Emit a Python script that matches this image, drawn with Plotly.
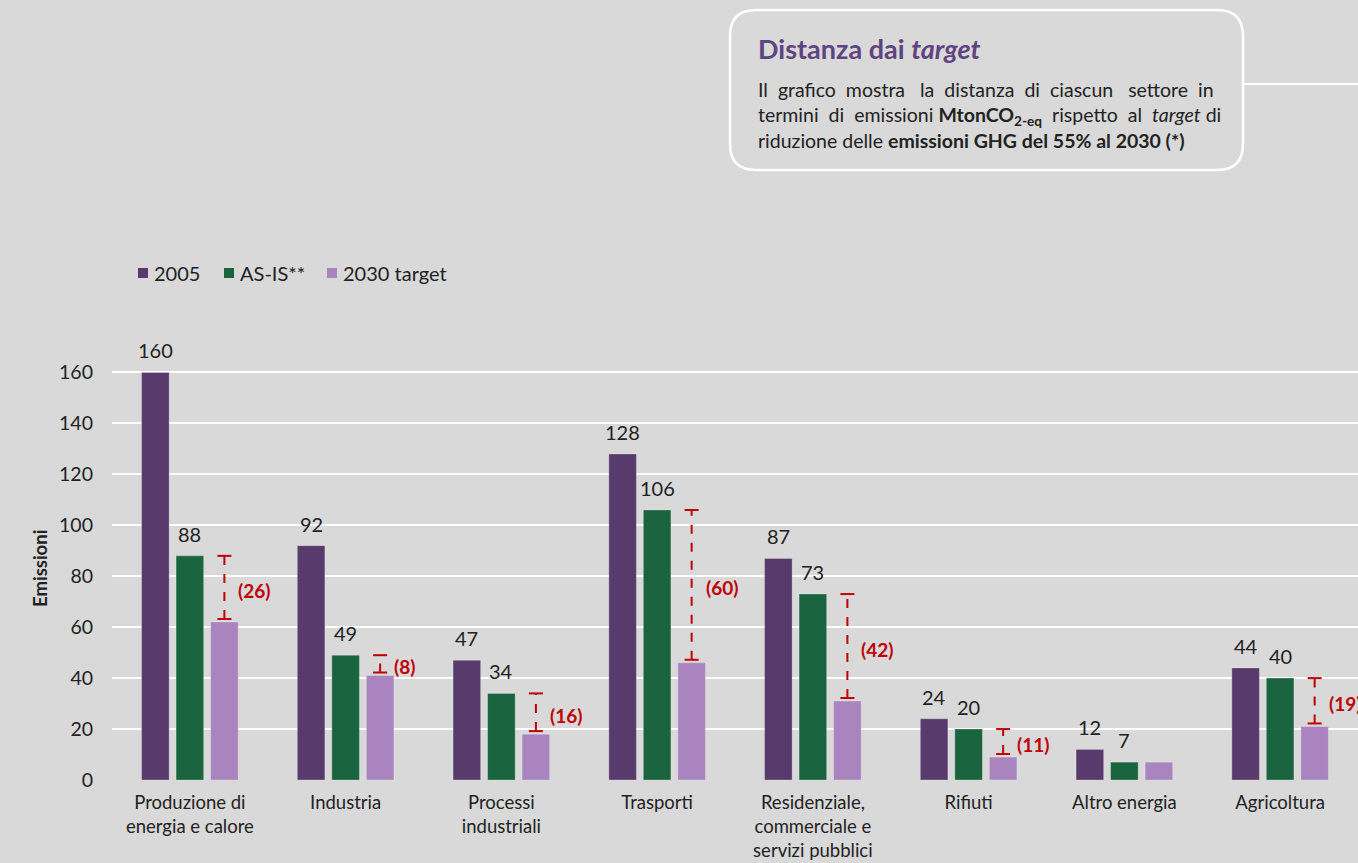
import plotly.graph_objects as go

# ---------------- data ----------------
categories = ["Produzione di<br>energia e calore", "Industria", "Processi<br>industriali",
              "Trasporti", "Residenziale,<br>commerciale e<br>servizi pubblici",
              "Rifiuti", "Altro energia", "Agricoltura"]
values_2005 = [160, 92, 47, 128, 87, 24, 12, 44]
values_asis = [88, 49, 34, 106, 73, 20, 7, 40]
values_target = [62, 41, 18, 46, 31, 9, 7, 21]
gap_labels = ["(26)", "(8)", "(16)", "(60)", "(42)", "(11)", "", "(19)"]
series_names = ["2005", "AS-IS**", "2030 target"]
yticks = [0, 20, 40, 60, 80, 100, 120, 140, 160]

# ---------------- style ----------------
W, H = 1358, 863
ML, MR, MT, MB = 112, 0, 347, 83
BG = "#D9D9D9"
C2005 = "#583B6C"
CASIS = "#1B6440"
CTARGET = "#A984BE"
RED = "#C00000"
TXT = "#222222"
TITLE = "#5E4480"
FONT = "Lato, 'Open Sans', sans-serif"
NB = "\u00a0"

PITCH = 0.2216      # distance between bars within a group (category units)
BW = 0.177          # bar width (category units)

def px2x(px):
    return (px - ML) / (W - ML - MR)

def px2y(py):
    return (H - MB - py) / (H - MT - MB)

xs = list(range(len(categories)))

fig = go.Figure()
shapes = []
annotations = []
for name, vals, col, k, lab in [
    (series_names[0], values_2005, C2005, -1, True),
    (series_names[1], values_asis, CASIS, 0, True),
    (series_names[2], values_target, CTARGET, 1, False),
]:
    fig.add_trace(go.Bar(
        x=xs, y=vals, name=name, width=BW, offset=k * PITCH - BW / 2,
        marker=dict(color=col, line=dict(color="rgba(255,255,255,0.25)", width=1)),
        showlegend=False,
    ))
    if lab:
        for i, v in zip(xs, vals):
            annotations.append(dict(x=i + k * PITCH, y=v, xref="x", yref="y", text=str(v),
                                    showarrow=False, xanchor="center", yanchor="middle",
                                    yshift=22, font=dict(family=FONT, size=20, color=TXT)))

# gap indicators (dashed red "error bars")
for i, (a, t, g) in enumerate(zip(values_asis, values_target, gap_labels)):
    if not g:
        continue
    xc = i + PITCH
    lo = t + 1.2
    shapes.append(dict(type="line", xref="x", yref="y", x0=xc, x1=xc, y0=lo, y1=a,
                       line=dict(color=RED, width=2, dash="dash")))
    for yy in (lo, a):
        shapes.append(dict(type="line", xref="x", yref="y", x0=xc - 0.045, x1=xc + 0.045,
                           y0=yy, y1=yy, line=dict(color=RED, width=2)))
    annotations.append(dict(x=xc, y=(lo + a) / 2, xref="x", yref="y", text=f"<b>{g}</b>",
                            showarrow=False, xanchor="left", yanchor="middle", xshift=12,
                            yshift=-3, font=dict(family=FONT, size=19, color=RED)))

# legend (custom)
leg_items = [(138, 152, C2005, series_names[0]), (224, 238, CASIS, series_names[1]),
             (327, 341, CTARGET, series_names[2])]
for sx, tx, col, name in leg_items:
    shapes.append(dict(type="rect", xref="paper", yref="paper",
                       x0=px2x(sx), x1=px2x(sx + 10), y0=px2y(268), y1=px2y(278),
                       fillcolor=col, line=dict(width=0)))
    annotations.append(dict(x=px2x(tx), y=px2y(273.5), xref="paper", yref="paper", text=name,
                            showarrow=False, xanchor="left", yanchor="middle",
                            font=dict(family=FONT, size=20, color=TXT)))

# info box (rounded rectangle)
bx0, by0, bx1, by1, r = 730, 10, 1243, 170, 26
def P(px, py):
    return f"{px2x(px):.5f},{px2y(py):.5f}"
path = (f"M {P(bx0 + r, by0)} L {P(bx1 - r, by0)} Q {P(bx1, by0)} {P(bx1, by0 + r)} "
        f"L {P(bx1, by1 - r)} Q {P(bx1, by1)} {P(bx1 - r, by1)} "
        f"L {P(bx0 + r, by1)} Q {P(bx0, by1)} {P(bx0, by1 - r)} "
        f"L {P(bx0, by0 + r)} Q {P(bx0, by0)} {P(bx0 + r, by0)} Z")
shapes.append(dict(type="path", xref="paper", yref="paper", path=path,
                   line=dict(color="white", width=2.5), fillcolor="rgba(0,0,0,0)"))
shapes.append(dict(type="line", xref="paper", yref="paper", x0=px2x(bx1), x1=px2x(W),
                   y0=px2y(84), y1=px2y(84), line=dict(color="white", width=2)))

annotations.append(dict(x=px2x(756), y=px2y(48), xref="paper", yref="paper",
                        text="<b>Distanza dai <i>target</i></b>", showarrow=False,
                        xanchor="left", yanchor="middle",
                        font=dict(family=FONT, size=27, color=TITLE)))

def pad(words, extras):
    out = words[0]
    for w, e in zip(words[1:], extras):
        out += " " + NB * e + w
    return out

body_lines = [
    pad(["Il", "grafico", "mostra", "la", "distanza", "di", "ciascun", "settore", "in"],
        [1, 1, 2, 1, 1, 1, 2, 1]),
    pad(["termini", "di", "emissioni", "<b>MtonCO<sub>2-eq</sub></b>", "rispetto", "al",
         "<i>target</i>", "di"], [1, 1, 0, 1, 1, 1, 0]),
    "riduzione delle <b>emissioni GHG del 55% al 2030 (*)</b>",
]
annotations.append(dict(x=px2x(756), y=px2y(115.5), xref="paper", yref="paper",
                        text="<br>".join(body_lines), showarrow=False, align="left",
                        xanchor="left", yanchor="middle",
                        font=dict(family=FONT, size=19.5, color=TXT)))

annotations.append(dict(x=px2x(40), y=px2y(569), xref="paper", yref="paper",
                        text="<b>Emissioni</b>", showarrow=False, textangle=-90,
                        xanchor="center", yanchor="middle",
                        font=dict(family=FONT, size=18.5, color=TXT)))

fig.update_layout(
    width=W, height=H,
    margin=dict(l=ML, r=MR, t=MT, b=MB, pad=0, autoexpand=False),
    paper_bgcolor=BG, plot_bgcolor=BG,
    barmode="overlay",
    font=dict(family=FONT, size=20, color=TXT),
    shapes=shapes, annotations=annotations,
    xaxis=dict(range=[-0.5, 7.5], tickvals=xs, ticktext=categories, showgrid=False,
               zeroline=False, showline=False, ticks="", ticklabelstandoff=9,
               automargin=False, tickfont=dict(size=18.5, color=TXT)),
    yaxis=dict(range=[0, 170], tickvals=yticks, showgrid=True, gridcolor="white", gridwidth=1.5,
               zeroline=False, showline=False, ticks="", ticklabelstandoff=18,
               automargin=False, tickfont=dict(size=19.5, color=TXT)),
)

fig.write_html("out.html")
